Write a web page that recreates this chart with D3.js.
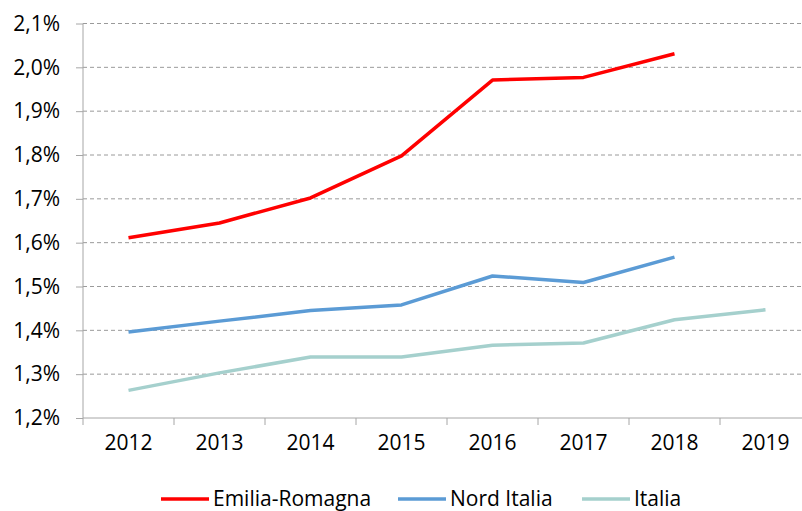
<!DOCTYPE html>
<html>
<head>
<meta charset="utf-8">
<script src="https://cdn.jsdelivr.net/npm/d3@7"></script>
<style>
  body { margin: 0; background: #fff; }
  svg { display: block; font-family: "Open Sans", sans-serif; }
</style>
</head>
<body>
<svg id="chart" width="802" height="511"></svg>
<script>
var years = ['2012', '2013', '2014', '2015', '2016', '2017', '2018', '2019'];
var emiliaRomagna = [1.611, 1.645, 1.702, 1.798, 1.971, 1.977, 2.031, null];
var nordItalia = [1.396, 1.421, 1.445, 1.458, 1.524, 1.509, 1.567, null];
var italia = [1.263, 1.303, 1.339, 1.339, 1.366, 1.371, 1.424, 1.447];
var yTicks = [1.2, 1.3, 1.4, 1.5, 1.6, 1.7, 1.8, 1.9, 2.0, 2.1];

var series = [
    { name: 'Emilia-Romagna', values: emiliaRomagna, color: '#ff0000' },
    { name: 'Nord Italia', values: nordItalia, color: '#5b9bd5' },
    { name: 'Italia', values: italia, color: '#a5d0cd' }
];

var svg = d3.select('#chart');
var plotLeft = 83, plotRight = 811, plotTop = 23.5, plotBottom = 418;
var fontSize = '21px';

var x = d3.scaleBand().domain(years).range([plotLeft, plotRight]);
var y = d3.scaleLinear().domain([1.2, 2.1]).range([plotBottom, plotTop]);
var fmt = d => d.toFixed(1).replace('.', ',') + '%';

// gridlines
svg.append('g')
    .selectAll('line')
    .data(yTicks.slice(1))
    .enter().append('line')
    .attr('x1', plotLeft).attr('x2', 802)
    .attr('y1', d => y(d)).attr('y2', d => y(d))
    .attr('stroke', '#9a9a9a')
    .attr('stroke-width', 1)
    .attr('stroke-dasharray', '4,3');

// y axis
var yAxis = svg.append('g')
    .attr('transform', `translate(${plotLeft},0)`)
    .call(d3.axisLeft(y).tickValues(yTicks).tickFormat(fmt).tickSize(7).tickPadding(16));
yAxis.attr('font-family', null).attr('font-size', null);
yAxis.select('.domain').attr('stroke', '#a6a6a6').attr('d', `M0,${plotTop}V${plotBottom}`);
yAxis.selectAll('.tick line').attr('stroke', '#a6a6a6');
yAxis.selectAll('text').style('font-size', fontSize).attr('fill', '#000');

// x axis
var xAxis = svg.append('g')
    .attr('transform', `translate(0,${plotBottom})`)
    .call(d3.axisBottom(x).tickSize(0).tickPadding(17));
xAxis.attr('font-family', null).attr('font-size', null);
xAxis.select('.domain').attr('stroke', '#a6a6a6').attr('d', `M${plotLeft},0H${plotRight}`);
xAxis.selectAll('text').style('font-size', fontSize).attr('fill', '#000');
xAxis.selectAll('.sep')
    .data(years.concat(['end']))
    .enter().append('line')
    .attr('x1', (d, i) => plotLeft + i * x.step())
    .attr('x2', (d, i) => plotLeft + i * x.step())
    .attr('y1', 0).attr('y2', 7)
    .attr('stroke', '#a6a6a6');

// lines
var line = d3.line()
    .defined(d => d.v != null)
    .x(d => x(d.year) + x.bandwidth() / 2)
    .y(d => y(d.v));

svg.append('g')
    .selectAll('path')
    .data(series)
    .enter().append('path')
    .attr('d', s => line(s.values.map((v, i) => ({ year: years[i], v: v }))))
    .attr('fill', 'none')
    .attr('stroke', s => s.color)
    .attr('stroke-width', 3.5)
    .attr('stroke-linejoin', 'round');

// legend
var legendX = [161, 398, 582];
var legend = svg.append('g')
    .selectAll('g')
    .data(series)
    .enter().append('g')
    .attr('transform', (d, i) => `translate(${legendX[i]},499)`);
legend.append('line')
    .attr('x1', 0).attr('x2', 48)
    .attr('stroke', d => d.color)
    .attr('stroke-width', 3.5);
legend.append('text')
    .attr('x', 52)
    .attr('dy', '0.35em')
    .style('font-size', fontSize)
    .text(d => d.name);
</script>
</body>
</html>
